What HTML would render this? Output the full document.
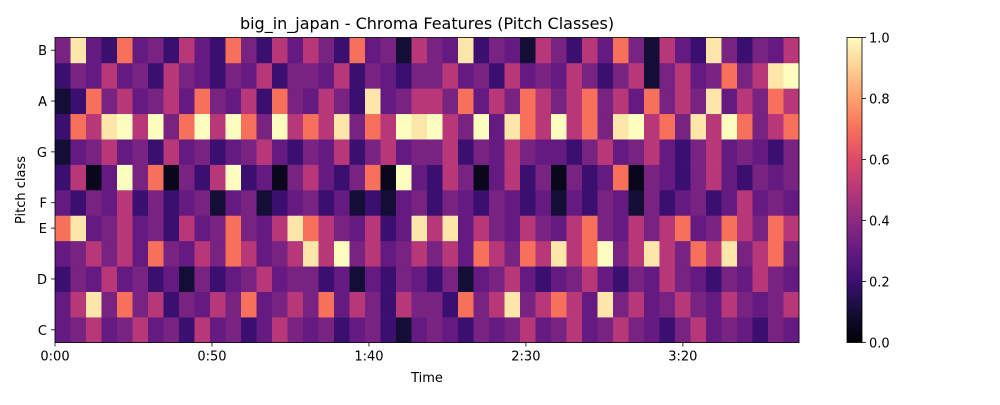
<!DOCTYPE html>
<html><head><meta charset="utf-8"><style>
body{margin:0;background:#fff;font-family:"Liberation Sans","DejaVu Sans",sans-serif}
svg text{font-family:"DejaVu Sans","Liberation Sans",sans-serif;fill:#000}
</style></head><body>
<svg id="chart" width="1000" height="400" xmlns="http://www.w3.org/2000/svg">
<text x="427" y="29" text-anchor="middle" font-size="16">big_in_japan - Chroma Features (Pitch Classes)</text>
<g id="cells"></g>
<g id="axes"></g>
<text x="427" y="382" text-anchor="middle" font-size="13">Time</text>
<text transform="translate(25,190) rotate(-90)" text-anchor="middle" font-size="13">Pitch class</text>
<defs><linearGradient id="cbg" x1="0" y1="1" x2="0" y2="0"></linearGradient></defs>
<rect x="847" y="37.5" width="15" height="305" fill="url(#cbg)" stroke="#000" stroke-width="0.8"/>
<g id="cbticks"></g>
</svg>
<script>
const pitchLabels = ["C","C#","D","D#","E","F","F#","G","G#","A","A#","B"];
const shownLabels = ["C","D","E","F","G","A","B"];
const timeTickLabels = ["0:00","0:50","1:40","2:30","3:20"];
const timeTickSeconds = [0,50,100,150,200];
const cbTickValues = [0,0.2,0.4,0.6,0.8,1.0];
const durationSec = 237;
const rowC  = [.3,.35,.5,.3,.35,.5,.3,.35,.2,.5,.3,.35,.2,.3,.5,.35,.3,.35,.2,.3,.35,.2,.1,.3,.35,.3,.2,.35,.3,.35,.5,.3,.35,.5,.3,.35,.5,.35,.3,.2,.35,.5,.3,.35,.3,.2,.35,.3];
const rowCs = [.3,.5,.95,.35,.7,.35,.5,.2,.35,.3,.5,.35,.7,.3,.35,.5,.35,.7,.3,.5,.35,.2,.5,.35,.35,.2,.7,.35,.5,.95,.35,.5,.7,.5,.3,.95,.35,.5,.3,.35,.5,.35,.3,.5,.35,.3,.35,.5];
const rowD  = [.2,.35,.3,.5,.3,.35,.2,.3,.1,.35,.2,.3,.35,.5,.3,.35,.35,.2,.3,.1,.3,.2,.35,.3,.2,.35,.1,.3,.35,.5,.3,.2,.3,.35,.5,.3,.2,.35,.3,.5,.35,.3,.2,.35,.3,.5,.35,.3];
const rowDs = [.3,.35,.5,.35,.5,.3,.7,.35,.3,.5,.35,.7,.5,.3,.35,.5,.95,.5,1,.35,.5,.3,.35,.5,.35,.5,.3,.7,.5,.35,.7,.5,.95,.5,.7,1,.35,.5,.95,.5,.35,.7,.5,.95,.35,.5,.7,.35];
const rowE  = [.7,.95,.3,.35,.5,.3,.35,.2,.5,.3,.35,.7,.35,.3,.5,.95,.7,.5,.35,.3,.5,.2,.3,.95,.5,.95,.3,.5,.35,.3,.5,.35,.3,.5,.7,.35,.3,.5,.35,.5,.7,.3,.35,.7,.5,.35,.7,.5];
const rowF  = [.3,.2,.35,.3,.5,.2,.35,.2,.3,.35,.1,.3,.35,.1,.2,.3,.35,.2,.3,.1,.2,.1,.3,.35,.2,.35,.3,.2,.35,.3,.2,.3,.1,.3,.2,.35,.3,.1,.35,.2,.3,.35,.2,.3,.5,.3,.35,.3];
const rowFs = [.2,.5,.05,.3,1,.35,.7,.05,.35,.2,.5,1,.2,.3,.05,.35,.5,.3,.2,.35,.7,.05,1,.3,.2,.5,.35,.05,.3,.5,.2,.35,.05,.35,.2,.3,.7,.05,.35,.3,.2,.35,.5,.3,.2,.35,.3,.35];
const rowG  = [.1,.3,.35,.5,.3,.35,.2,.5,.3,.35,.2,.3,.35,.5,.3,.2,.35,.3,.5,.2,.35,.5,.3,.35,.35,.5,.2,.35,.3,.5,.35,.3,.3,.2,.35,.5,.3,.35,.5,.3,.2,.35,.5,.3,.35,.3,.2,.35];
const rowGs = [.2,.7,.5,.95,1,.5,1,.35,.7,1,.5,1,.7,.35,1,.5,.7,.5,.95,.35,.7,.5,1,.95,1,.5,.35,1,.3,.95,.7,.5,1,.5,.7,.35,.95,1,.5,.7,.35,.95,.5,1,.7,.35,.5,.7];
const rowA  = [.1,.2,.7,.35,.5,.3,.35,.5,.3,.7,.35,.3,.5,.2,.7,.35,.3,.5,.35,.2,.95,.3,.35,.5,.5,.35,.7,.3,.5,.35,.7,.5,.35,.5,.7,.35,.5,.3,.7,.35,.5,.35,.95,.3,.5,.35,.7,.5];
const rowAs = [.2,.35,.3,.5,.3,.35,.2,.5,.35,.3,.2,.35,.3,.5,.2,.35,.35,.3,.5,.2,.35,.3,.2,.35,.35,.5,.3,.35,.2,.5,.3,.35,.3,.5,.35,.2,.35,.5,.1,.35,.5,.3,.35,.7,.35,.5,.95,1];
const rowB  = [.35,.95,.3,.2,.7,.3,.35,.2,.5,.3,.2,.7,.35,.2,.5,.3,.5,.35,.2,.7,.3,.35,.1,.5,.35,.3,.95,.2,.35,.3,.1,.5,.35,.2,.5,.3,.7,.35,.1,.5,.3,.2,.95,.35,.2,.35,.3,.5];
const chroma = [rowC,rowCs,rowD,rowDs,rowE,rowF,rowFs,rowG,rowGs,rowA,rowAs,rowB];

const X0=55,X1=799,Y0=37.5,Y1=342.5;
const NS="http://www.w3.org/2000/svg";
const magma=[[0,0,4],[20,14,54],[59,15,112],[100,26,128],[140,41,129],[183,55,121],[222,73,104],[247,112,92],[254,159,109],[254,207,146],[252,253,191]];
function cmap(v){v=Math.max(0,Math.min(1,v));const f=v*10,i=Math.min(9,Math.floor(f)),t=f-i,a=magma[i],b=magma[i+1];
return `rgb(${a.map((c,k)=>Math.round(c+(b[k]-c)*t)).join(',')})`;}
const xTime=s=>X0+(s/durationSec)*(X1-X0);
const rowH=(Y1-Y0)/12;
const yRow=p=>Y1-(p+1)*rowH;
const cells=document.getElementById('cells');
chroma.forEach((row,p)=>{const n=row.length,w=(X1-X0)/n;row.forEach((v,i)=>{
const r=document.createElementNS(NS,'rect');


r.setAttribute('x',(X0+i*w).toFixed(2));r.setAttribute('y',yRow(p).toFixed(2));
r.setAttribute('width',(w+0.4).toFixed(2));r.setAttribute('height',(rowH+0.3).toFixed(2));
r.setAttribute('fill',cmap(v));cells.appendChild(r);});});
const axes=document.getElementById('axes');
function add(tag,attrs,txt){const e=document.createElementNS(NS,tag);for(const k in attrs)e.setAttribute(k,attrs[k]);if(txt!==undefined)e.textContent=txt;axes.appendChild(e);return e;}
const frame=add('rect',{x:X0,y:Y0,width:X1-X0,height:Y1-Y0,fill:'none',stroke:'#000','stroke-width':0.8});


timeTickSeconds.forEach((s,i)=>{const x=xTime(s);
const l=add('line',{x1:x,x2:x,y1:Y1,y2:Y1+4,stroke:'#000','stroke-width':0.8});


const t=add('text',{x:x,y:Y1+18,'text-anchor':'middle','font-size':13},timeTickLabels[i]);

});
shownLabels.forEach(lab=>{const p=pitchLabels.indexOf(lab);const y=yRow(p)+rowH/2;
const l=add('line',{x1:X0-4,x2:X0,y1:y,y2:y,stroke:'#000','stroke-width':0.8});


const t=add('text',{x:X0-8,y:y+5,'text-anchor':'end','font-size':13},lab);

});
const g=document.getElementById('cbg');
for(let i=0;i<=20;i++){const s=document.createElementNS(NS,'stop');s.setAttribute('offset',i/20);s.setAttribute('stop-color',cmap(i/20));g.appendChild(s);}
const cbt=document.getElementById('cbticks');
cbTickValues.forEach(v=>{const y=Y1-v*(Y1-Y0);
const l=document.createElementNS(NS,'line');


l.setAttribute('x1',862);l.setAttribute('x2',866);l.setAttribute('y1',y);l.setAttribute('y2',y);l.setAttribute('stroke','#000');l.setAttribute('stroke-width',0.8);cbt.appendChild(l);
const t=document.createElementNS(NS,'text');


t.setAttribute('x',869);t.setAttribute('y',y+5);t.setAttribute('font-size',13);t.textContent=v.toFixed(1);cbt.appendChild(t);});
</script>
</body></html>
